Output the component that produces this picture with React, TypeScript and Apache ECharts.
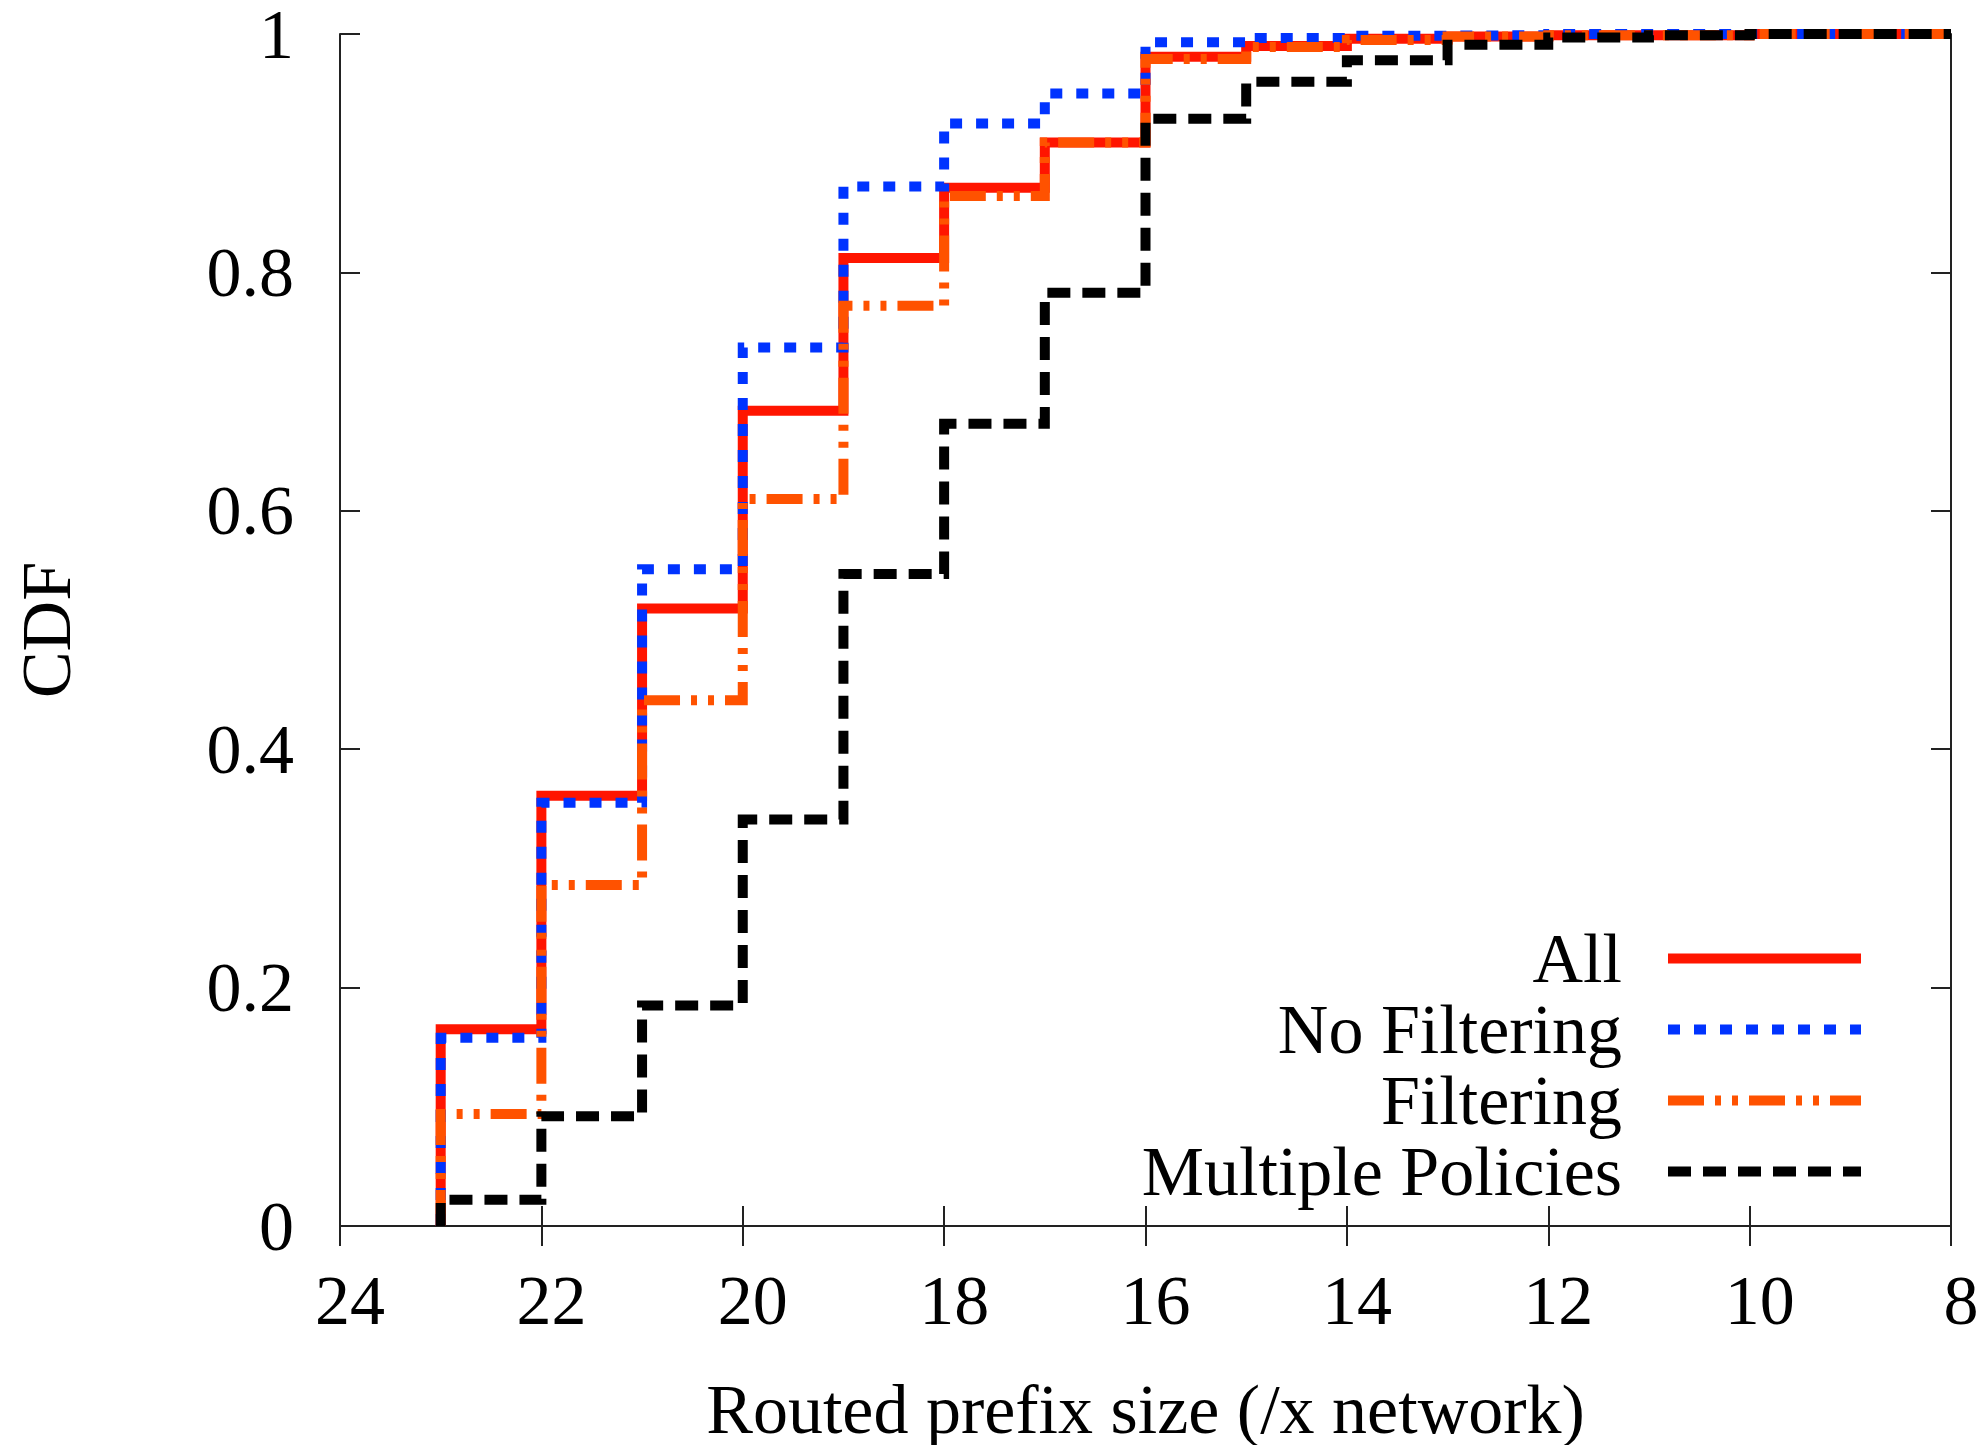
import React, { useEffect, useRef } from "react";
import * as echarts from "echarts";

const prefixSizes = [23, 22, 21, 20, 19, 18, 17, 16, 15, 14, 13, 12, 11, 10, 9, 8];
const startValue = 0;
const allValues = [0.165, 0.361, 0.518, 0.684, 0.812, 0.871, 0.909, 0.981, 0.990, 0.996, 0.998, 0.999, 0.999, 1.0, 1.0, 1.0];
const noFilteringValues = [0.158, 0.355, 0.551, 0.737, 0.872, 0.925, 0.950, 0.993, 0.9966, 0.9986, 0.999, 1.0, 1.0, 1.0, 1.0, 1.0];
const filteringValues = [0.094, 0.286, 0.441, 0.610, 0.772, 0.864, 0.909, 0.979, 0.989, 0.995, 0.998, 0.999, 0.999, 1.0, 1.0, 1.0];
const multipleValues = [0.022, 0.092, 0.185, 0.341, 0.547, 0.673, 0.783, 0.929, 0.960, 0.978, 0.991, 0.997, 0.999, 1.0, 1.0, 1.0];
const seriesNames = ["All", "No Filtering", "Filtering", "Multiple Policies"];

const FONT = "'Liberation Serif', 'Times New Roman', serif";

function toData(values: number[]) {
  return [[prefixSizes[0], startValue], ...prefixSizes.map((x, i) => [x, values[i]])];
}

export default function App() {
  const ref = useRef<HTMLDivElement>(null);
  useEffect(() => {
    if (!ref.current) return;
    const chart = echarts.init(ref.current, null, { renderer: "svg" });
    const axisLine = { show: true, lineStyle: { color: "#222", width: 2 } };
    const tick = { show: true, inside: true, length: 20, lineStyle: { color: "#222", width: 2 } };
    const xBase = { type: "value", min: 8, max: 24, interval: 2, inverse: true, splitLine: { show: false }, axisLine, axisTick: tick };
    const yBase = { type: "value", min: 0, max: 1, interval: 0.2, splitLine: { show: false }, axisLine, axisTick: tick };
    const mk = (name: string, values: number[], color: string, type: any, z: number) => ({
      name,
      type: "line",
      step: "end",
      symbol: "none",
      clip: false,
      z,
      data: toData(values),
      lineStyle: { color, width: 10, type, cap: "butt", join: "miter" },
      itemStyle: { color },
    });
    chart.setOption({
      animation: false,
      backgroundColor: "#ffffff",
      grid: { left: 340, right: 36, top: 34, bottom: 219, containLabel: false, outerBoundsMode: "none" },
      legend: {
        orient: "vertical",
        align: "right",
        right: 121,
        top: 923,
        padding: 0,
        itemGap: 0,
        itemWidth: 193,
        itemHeight: 14,
        data: seriesNames,
        itemStyle: { opacity: 0, color: "transparent", borderWidth: 0 },
        lineStyle: { width: 10, cap: "butt" },
        textStyle: { fontFamily: FONT, fontSize: 70, color: "#000", lineHeight: 71, padding: [0, 41, 0, 0] },
      },
      xAxis: [
        {
          ...xBase,
          position: "bottom",
          name: "Routed prefix size (/x network)",
          nameLocation: "middle",
          nameGap: 153,
          nameTextStyle: { fontFamily: FONT, fontSize: 70, color: "#000", lineHeight: 60 },
          axisLabel: { fontFamily: FONT, fontSize: 70, color: "#000", margin: 39, padding: [0, 0, 0, 20] },
        },
        { ...xBase, position: "top", axisLabel: { show: false } },
      ],
      yAxis: [
        {
          ...yBase,
          position: "left",
          name: "CDF",
          nameLocation: "middle",
          nameRotate: 90,
          nameGap: 259,
          nameTextStyle: { fontFamily: FONT, fontSize: 70, color: "#000" },
          axisLabel: { fontFamily: FONT, fontSize: 70, color: "#000", margin: 46, lineHeight: 60 },
        },
        { ...yBase, position: "right", axisLabel: { show: false } },
      ],
      series: [
        mk(seriesNames[0], allValues, "#ff1500", "solid", 2),
        mk(seriesNames[1], noFilteringValues, "#0033ff", [12, 14], 3),
        mk(seriesNames[2], filteringValues, "#ff5200", [36, 11, 6, 11, 6, 11], 4),
        mk(seriesNames[3], multipleValues, "#000000", [23, 12], 5),
      ],
    });
    return () => chart.dispose();
  }, []);
  return <div ref={ref} style={{ position: "absolute", left: 0, top: 0, width: 1987, height: 1445 }} />;
}
